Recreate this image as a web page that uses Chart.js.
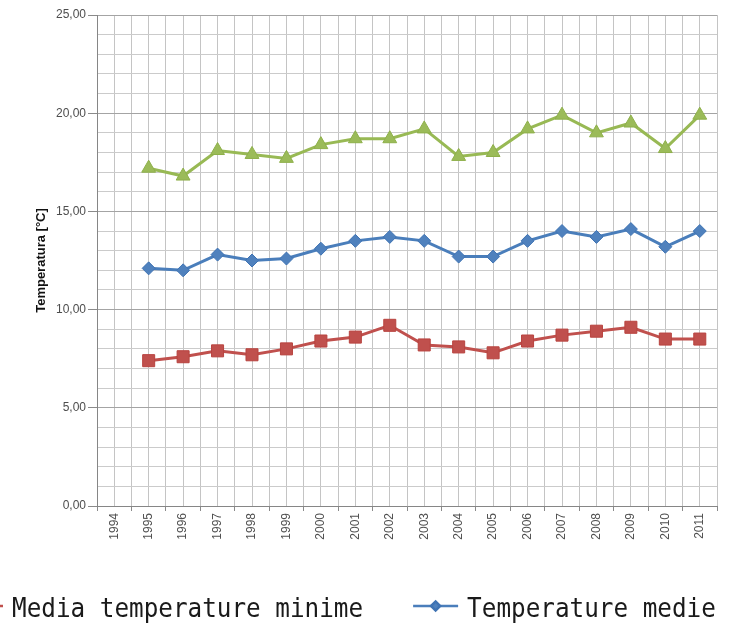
<!DOCTYPE html>
<html>
<head>
<meta charset="utf-8">
<script src="https://cdn.jsdelivr.net/npm/chart.js@4/dist/chart.umd.min.js"></script>
<style>
  html, body { margin: 0; padding: 0; background: #ffffff; }
  #wrap { width: 734px; height: 626px; overflow: hidden; }
</style>
</head>
<body>
<div id="wrap"><canvas id="chart" width="734" height="626"></canvas></div>
<script>
// Years on the horizontal axis (1994 has no measurements)
const years = [1994, 1995, 1996, 1997, 1998, 1999, 2000, 2001, 2002,
               2003, 2004, 2005, 2006, 2007, 2008, 2009, 2010, 2011];

// Yearly temperatures [°C]
const tempMinime  = [null, 7.4, 7.6, 7.9, 7.7, 8.0, 8.4, 8.6, 9.2,
                     8.2, 8.1, 7.8, 8.4, 8.7, 8.9, 9.1, 8.5, 8.5];
const tempMedie   = [null, 12.1, 12.0, 12.8, 12.5, 12.6, 13.1, 13.5, 13.7,
                     13.5, 12.7, 12.7, 13.5, 14.0, 13.7, 14.1, 13.2, 14.0];
const tempMassime = [null, 17.2, 16.8, 18.1, 17.9, 17.7, 18.4, 18.7, 18.7,
                     19.2, 17.8, 18.0, 19.2, 19.9, 19.0, 19.5, 18.2, 19.9];

// Labelled values on the temperature axis
const yTickValues = [0, 5, 10, 15, 20, 25];
const yTickLabels = ['0,00', '5,00', '10,00', '15,00', '20,00', '25,00'];

const seriesNames = ['Media temperature minime', 'Temperature medie', 'Temperature massime'];

const toPoints = arr => years.map((yr, i) => ({ x: yr, y: arr[i] }));

// Legend row drawn under the plot, one item after another
const bottomLegend = {
  id: 'bottomLegend',
  afterDraw(chart) {
    const ctx = chart.ctx;
    const squeeze = 0.9;
    const midY = 606;
    let x = -42;
    ctx.save();
    ctx.font = '27px "DejaVu Sans Mono", monospace';
    ctx.textBaseline = 'alphabetic';
    chart.data.datasets.forEach(ds => {
      ctx.strokeStyle = ds.borderColor;
      ctx.lineWidth = 2.5;
      ctx.beginPath();
      ctx.moveTo(x, midY);
      ctx.lineTo(x + 45, midY);
      ctx.stroke();
      ctx.fillStyle = ds.pointBackgroundColor;
      ctx.strokeStyle = ds.pointBorderColor;
      Chart.helpers.drawPoint(ctx, { pointStyle: ds.pointStyle, rotation: 0,
        radius: ds.pointRadius * 0.7, borderWidth: 1 }, x + 22.5, midY);
      const w = ctx.measureText(ds.label).width * squeeze;
      ctx.save();
      ctx.translate(x + 54, 617);
      ctx.scale(squeeze, 1);
      ctx.fillStyle = '#1a1a1a';
      ctx.fillText(ds.label, 0, 0);
      ctx.restore();
      x += 54 + w + 50;
    });
    ctx.restore();
  }
};

const isMajor = v => Math.abs(v % 5) < 1e-6;

new Chart(document.getElementById('chart'), {
  type: 'line',
  data: {
    datasets: [
      {
        label: seriesNames[0],
        data: toPoints(tempMinime),
        borderColor: '#C0504D',
        backgroundColor: '#C0504D',
        pointBackgroundColor: '#C0504D',
        pointBorderColor: '#B8433F',
        pointStyle: 'rect',
        pointRadius: 8.5,
        pointBorderWidth: 1,
        borderWidth: 3
      },
      {
        label: seriesNames[1],
        data: toPoints(tempMedie),
        borderColor: '#4A7EBB',
        backgroundColor: '#4F81BD',
        pointBackgroundColor: '#4F81BD',
        pointBorderColor: '#3F73B3',
        pointStyle: 'rectRot',
        pointRadius: 6.5,
        pointBorderWidth: 1,
        borderWidth: 3
      },
      {
        label: seriesNames[2],
        data: toPoints(tempMassime),
        borderColor: '#98B954',
        backgroundColor: '#9BBB59',
        pointBackgroundColor: '#9BBB59',
        pointBorderColor: '#8EB04A',
        pointStyle: 'triangle',
        pointRadius: 8,
        pointBorderWidth: 1,
        borderWidth: 3
      }
    ]
  },
  options: {
    responsive: false,
    animation: false,
    spanGaps: false,
    layout: { padding: { left: 0, top: 15, right: 17, bottom: 80 } },
    plugins: {
      legend: { display: false },
      tooltip: { enabled: false }
    },
    elements: { line: { tension: 0 } },
    scales: {
      x: {
        type: 'linear',
        min: years[0] - 0.5,
        max: years[years.length - 1] + 0.5,
        afterFit: s => { s.height = 40; },
        ticks: {
          stepSize: 0.5,
          autoSkip: false,
          minRotation: 90,
          maxRotation: 90,
          padding: 2,
          color: '#505050',
          font: { family: 'Liberation Sans, Arial, sans-serif', size: 12 },
          callback: v => (Number.isInteger(v) && years.includes(v)) ? String(v) : ''
        },
        grid: {
          color: '#c4c4c4',
          lineWidth: 1,
          tickLength: 5,
          tickColor: c => Number.isInteger(c.tick.value) ? 'rgba(0,0,0,0)' : '#8a8a8a'
        },
        border: { color: '#868686', width: 1 }
      },
      y: {
        min: 0,
        max: 25,
        afterFit: s => { s.width = 97; },
        ticks: {
          stepSize: 1,
          autoSkip: false,
          padding: 2,
          color: '#4d4d4d',
          font: { family: 'Liberation Sans, Arial, sans-serif', size: 12 },
          callback: v => {
            const k = yTickValues.indexOf(v);
            return k >= 0 ? yTickLabels[k] : '';
          }
        },
        grid: {
          color: c => isMajor(c.tick.value) ? '#a4a4a4' : '#cbcbcb',
          lineWidth: 1,
          tickLength: 9,
          tickColor: c => isMajor(c.tick.value) ? '#8a8a8a' : 'rgba(0,0,0,0)'
        },
        border: { color: '#868686', width: 1 },
        title: {
          display: true,
          text: 'Temperatura [°C]',
          color: '#111111',
          font: { family: 'Liberation Sans, Arial, sans-serif', size: 13, weight: 'bold' },
          padding: { top: 34, bottom: 0 }
        }
      }
    }
  },
  plugins: [bottomLegend]
});
</script>
</body>
</html>
